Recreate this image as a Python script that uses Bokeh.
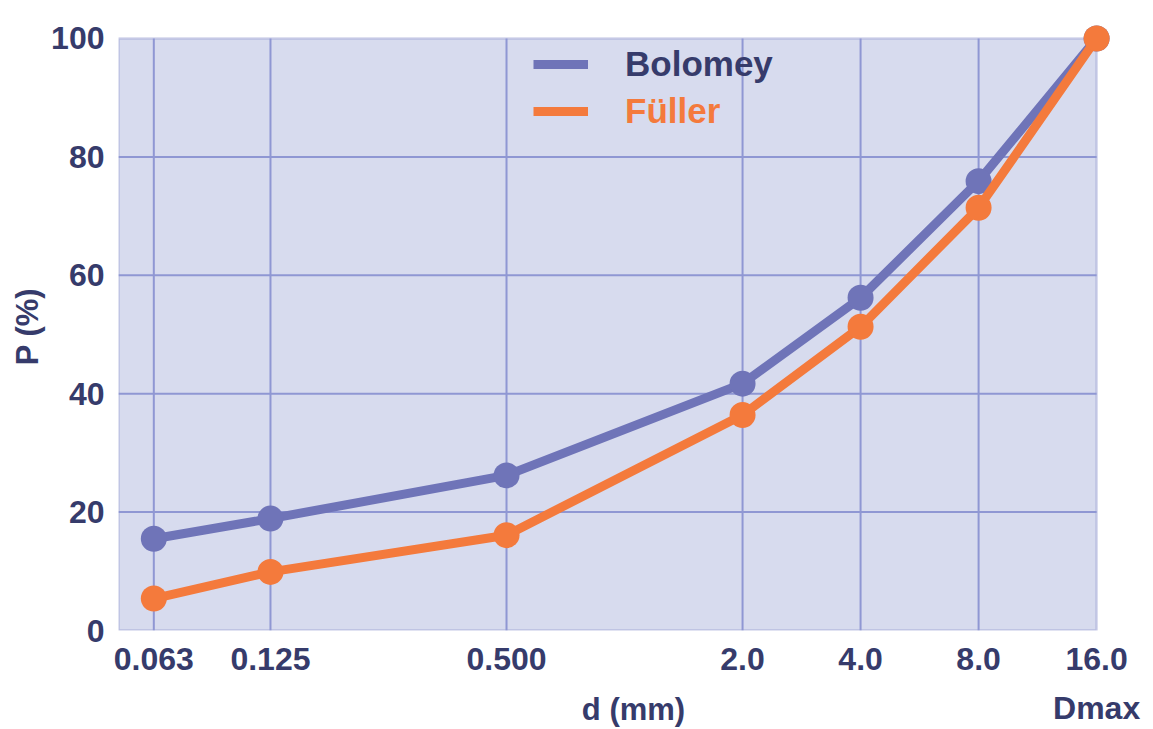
from bokeh.plotting import figure
from bokeh.models import (Range1d, FixedTicker, BoxAnnotation, Legend, LegendItem,
                          LogAxis, ColumnDataSource)
from bokeh.embed import file_html
from bokeh.resources import INLINE

# ---- data ----
d_mm = [0.063, 0.125, 0.5, 2.0, 4.0, 8.0, 16.0]
bolomey = [15.5, 18.9, 26.2, 41.7, 56.2, 75.9, 100.0]
fuller = [5.4, 9.9, 16.1, 36.4, 51.3, 71.4, 100.0]
x_tick_labels = ["0.063", "0.125", "0.500", "2.0", "4.0", "8.0", "16.0"]
y_ticks = [0, 20, 40, 60, 80, 100]
y_grid = [20, 40, 60, 80]

FONT = "Liberation Sans"
NAVY = "#363b6b"
BLUE = "#6f74b8"
ORANGE = "#f47a3c"
GRID = "#8f97d3"
BORDER = "#7278c0"
FILL = "#d7dbee"

x_start, x_end = 0.0512, 21.7
p = figure(width=1153, height=729, x_axis_type="log",
           x_range=Range1d(x_start, x_end), y_range=Range1d(0, 102.7),
           output_backend="svg", toolbar_location=None,
           min_border_left=118, min_border_right=5, min_border_top=22, min_border_bottom=99)
p.outline_line_color = None
p.background_fill_color = "white"
p.border_fill_color = "white"
p.xgrid.visible = False
p.ygrid.visible = False

# plot area box
box = BoxAnnotation(left=x_start, right=d_mm[-1], bottom=0, top=100,
                    fill_color=FILL, fill_alpha=1.0, line_color=BORDER, line_width=2.5,
                    level="underlay")
p.add_layout(box)

# grid lines
vx = d_mm[:-1]
p.segment(x0=vx, y0=[0] * len(vx), x1=vx, y1=[100] * len(vx), line_color=GRID, line_width=2)
p.segment(x0=[x_start] * len(y_grid), y0=y_grid, x1=[d_mm[-1]] * len(y_grid), y1=y_grid,
          line_color=GRID, line_width=2)

# series
src = ColumnDataSource(dict(d=d_mm, b=bolomey, f=fuller))
lb = p.line("d", "b", source=src, line_color=BLUE, line_width=9)
p.scatter("d", "b", source=src, size=26, fill_color=BLUE, line_color=None)
lf = p.line("d", "f", source=src, line_color=ORANGE, line_width=9)
p.scatter("d", "f", source=src, size=26, fill_color=ORANGE, line_color=None)

# axes
xa = p.xaxis[0]
xa.ticker = FixedTicker(ticks=d_mm)
xa.major_label_overrides = {v: s for v, s in zip(d_mm, x_tick_labels)}
ya = p.yaxis[0]
ya.ticker = FixedTicker(ticks=y_ticks)

# second bottom axis carrying "Dmax" under 16.0 and the axis title
xa2 = LogAxis(ticker=FixedTicker(ticks=[d_mm[-1]]),
              major_label_overrides={d_mm[-1]: "Dmax"},
              axis_label="d (mm)")
p.add_layout(xa2, "below")

for ax in (xa, ya, xa2):
    ax.axis_line_color = None
    ax.major_tick_line_color = None
    ax.minor_tick_line_color = None
    ax.major_label_text_font = FONT
    ax.major_label_text_font_style = "bold"
    ax.major_label_text_font_size = "32px"
    ax.major_label_text_color = NAVY
    ax.axis_label_text_font = FONT
    ax.axis_label_text_font_style = "bold"
    ax.axis_label_text_font_size = "31px"
    ax.axis_label_text_color = NAVY
xa.major_label_standoff = 11
ya.major_label_standoff = 8
ya.axis_label = "P (%)"
ya.axis_label_standoff = 3
xa2.major_label_standoff = 11
xa2.axis_label_standoff = -37

# legends (different text colours)
leg_kw = dict(label_text_font=FONT, label_text_font_style="bold", label_text_font_size="35px",
              glyph_width=55, glyph_height=40, label_height=40, label_standoff=37,
              padding=0, margin=0, spacing=0, border_line_color=None,
              background_fill_alpha=0.0)
leg1 = Legend(items=[LegendItem(label="Bolomey", renderers=[lb])], location=(415, 546),
              label_text_color=NAVY, **leg_kw)
leg2 = Legend(items=[LegendItem(label="Füller", renderers=[lf])], location=(415, 499),
              label_text_color=ORANGE, **leg_kw)
p.add_layout(leg1)
p.add_layout(leg2)

open("out.html", "w").write(file_html(p, INLINE))
